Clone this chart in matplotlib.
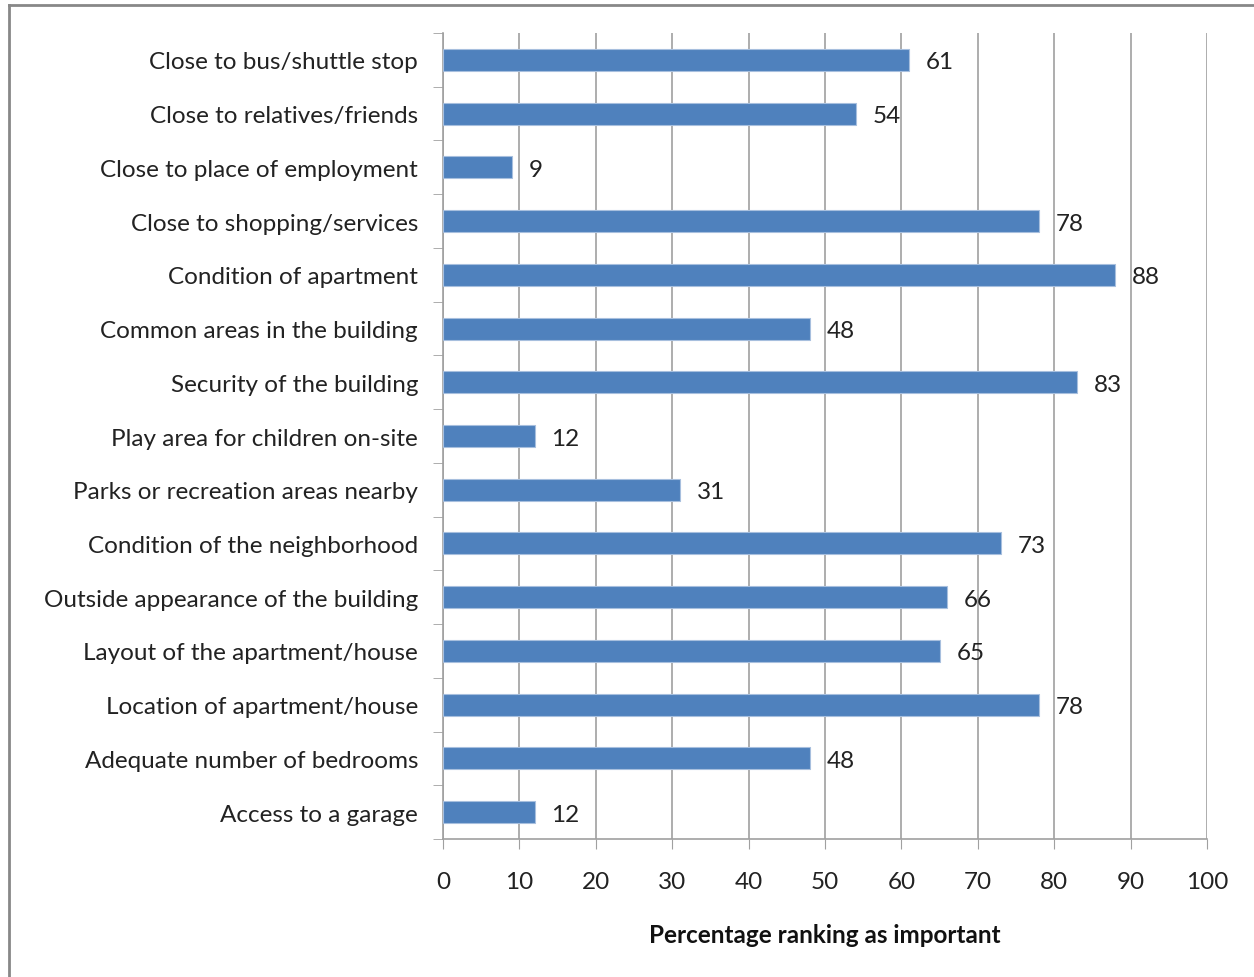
import matplotlib.pyplot as plt
from matplotlib.lines import Line2D
import numpy as np

plt.rcParams['font.family'] = ['Lato', 'DejaVu Sans']

# Survey factors, top to bottom as listed
factors = [
    'Close to bus/shuttle stop',
    'Close to relatives/friends',
    'Close to place of employment',
    'Close to shopping/services',
    'Condition of apartment',
    'Common areas in the building',
    'Security of the building',
    'Play area for children on-site',
    'Parks or recreation areas nearby',
    'Condition of the neighborhood',
    'Outside appearance of the building',
    'Layout of the apartment/house',
    'Location of apartment/house',
    'Adequate number of bedrooms',
    'Access to a garage',
]
percent = [61, 54, 9, 78, 88, 48, 83, 12, 31, 73, 66, 65, 78, 48, 12]

bar_color = '#4F81BD'
axis_gray = '#A0A0A0'
fs = 17.5

fig = plt.figure(figsize=(12.54, 9.78), dpi=100)
ax = fig.add_axes([0.3533, 0.1411, 0.6093, 0.8241])

y = np.arange(len(factors))
ax.barh(y, percent, height=0.41, color=bar_color, edgecolor='#A7BFDE',
        linewidth=0.8, zorder=3)

for yi, v in zip(y, percent):
    ax.annotate(str(v), (v, yi), xytext=(12, 0), textcoords='offset points',
                va='center_baseline', ha='left', fontsize=fs, color='#222222')

ax.set_xlim(0, 100)
ax.set_ylim(len(factors) - 0.5, -0.5)
ax.set_xticks(np.arange(0, 101, 10))
ax.tick_params(axis='x', length=7, color=axis_gray, labelsize=fs,
               pad=16, labelcolor='#222222')

# category labels in the middle, tick marks on the boundaries
ax.set_yticks(y)
ax.set_yticklabels(factors, fontsize=fs, color='#222222')
ax.tick_params(axis='y', length=0, pad=18)
ax.set_yticks(np.arange(-0.5, len(factors), 1), minor=True)
ax.tick_params(axis='y', which='minor', length=7, color=axis_gray)

ax.grid(axis='x', color=axis_gray, linewidth=1.2, zorder=0)
ax.set_axisbelow(True)
for side in ['top', 'right']:
    ax.spines[side].set_visible(False)
for side in ['left', 'bottom']:
    ax.spines[side].set_color(axis_gray)
    ax.spines[side].set_linewidth(1.2)

ax.set_xlabel('Percentage ranking as important', fontsize=17.5,
              fontweight='bold', labelpad=22, color='#111111')

# outer chart border (left and top edges)
fig.add_artist(Line2D([0.0072, 0.0072], [0, 0.9935], color='#888888',
                      linewidth=2, transform=fig.transFigure))
fig.add_artist(Line2D([0.0072, 1.0], [0.9935, 0.9935], color='#888888',
                      linewidth=2, transform=fig.transFigure))

fig.savefig('out.png', dpi=100)
